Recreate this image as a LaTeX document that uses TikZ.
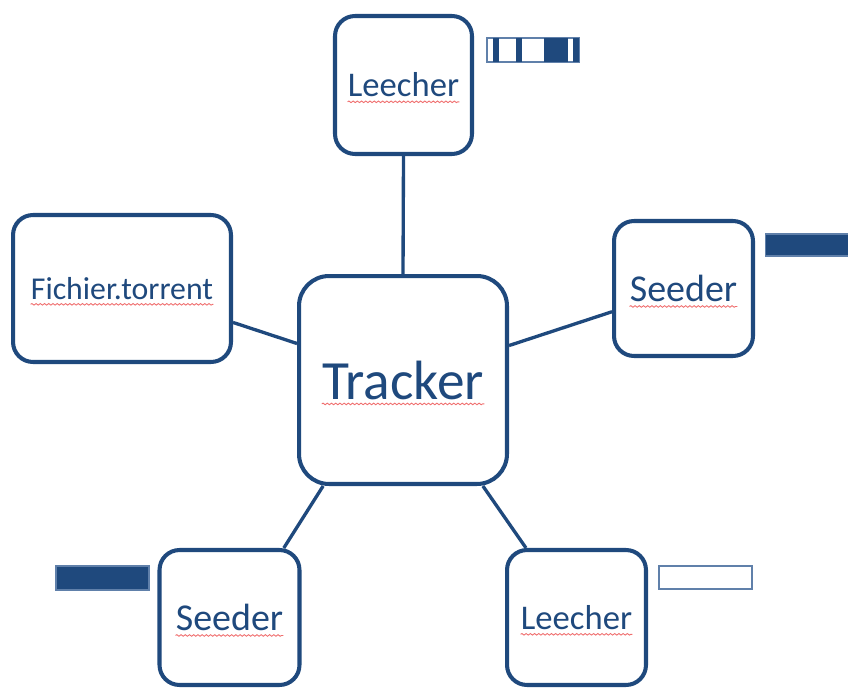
\documentclass[tikz,border=0pt]{standalone}
\usepackage{fontspec}
\setmainfont{Carlito}
\usetikzlibrary{decorations.pathmorphing}
\definecolor{darkblue}{RGB}{31,73,125}
\definecolor{barline}{RGB}{96,128,170}
\definecolor{spellred}{RGB}{240,110,110}
\newcommand{\spellmark}[1]{\draw[wavy] ([yshift=-2.8pt]#1.base west) -- ([yshift=-2.8pt]#1.base east);}
\begin{document}
\begin{tikzpicture}[x=0.02cm,y=-0.02cm,
	peer/.style={draw=darkblue,line width=2.3pt,rounded corners=0.4cm,fill=white,inner sep=0pt},
	link/.style={draw=darkblue,line width=1.9pt},
	lbl/.style={text=darkblue,inner sep=0pt},
	wavy/.style={draw=spellred,line width=0.5pt,decorate,decoration={snake,amplitude=0.45pt,segment length=2.4pt}},
	piece/.style={draw=barline,line width=0.6pt,inner sep=0pt}]
	\useasboundingbox (0,0) rectangle (848,689);

	% peers and tracker
	\node[peer,minimum width=2.74cm,minimum height=2.76cm] (lt) at (403.5,85) {};
	\node[peer,minimum width=4.36cm,minimum height=2.94cm] (ft) at (122,288.5) {};
	\node[peer,minimum width=4.16cm,minimum height=4.16cm,rounded corners=0.6cm] (trk) at (403,380) {};
	\node[peer,minimum width=2.78cm,minimum height=2.70cm] (sr) at (683.5,288.5) {};
	\node[peer,minimum width=2.80cm,minimum height=2.70cm] (sb) at (229.5,617.5) {};
	\node[peer,minimum width=2.78cm,minimum height=2.70cm] (lb) at (576.5,617.5) {};

	\node[lbl,font=\fontsize{19.7}{22}\selectfont] (ltt) at (lt) {Leecher};
	\node[lbl,font=\fontsize{18.1}{20}\selectfont] (ftt) at (ft) {Fichier.torrent};
	\node[lbl,font=\fontsize{31.5}{35}\selectfont] (trkt) at (trk) {Tracker};
	\node[lbl,font=\fontsize{21.6}{24}\selectfont] (srt) at (sr) {Seeder};
	\node[lbl,font=\fontsize{21.6}{24}\selectfont] (sbt) at (sb) {Seeder};
	\node[lbl,font=\fontsize{19.7}{22}\selectfont] (lbt) at (lb) {Leecher};

	\spellmark{ltt}
	\spellmark{ftt}
	\spellmark{trkt}
	\spellmark{srt}
	\spellmark{sbt}
	\spellmark{lbt}

	% links
	\draw[link] (trk.north) -- (lt.south);
	\draw[link] (ft.-17.5) -- (trk.161.5);
	\draw[link] (trk.18.5) -- (sr.198.6);
	\draw[link] (trk.233.7) -- (sb.52.7);
	\draw[link] (trk.-53.4) -- (lb.126.5);

	% pieces held
	\node[piece,minimum width=1.84cm,minimum height=0.48cm] (plt) at (533,50) {};
	\fill[darkblue] (493,38) rectangle (499,62);
	\fill[darkblue] (516,38) rectangle (522,62);
	\fill[darkblue] (544,38) rectangle (568,62);
	\fill[darkblue] (573,38) rectangle (579,62);
	\draw[barline,line width=0.6pt] (plt.north west) rectangle (plt.south east);
	\node[piece,fill=darkblue,minimum width=1.70cm,minimum height=0.44cm] (psr) at (808,245) {};
	\node[piece,fill=darkblue,minimum width=1.86cm,minimum height=0.48cm] (psb) at (102.5,578) {};
	\node[piece,minimum width=1.86cm,minimum height=0.46cm] (plb) at (705.5,577.5) {};
\end{tikzpicture}
\end{document}
